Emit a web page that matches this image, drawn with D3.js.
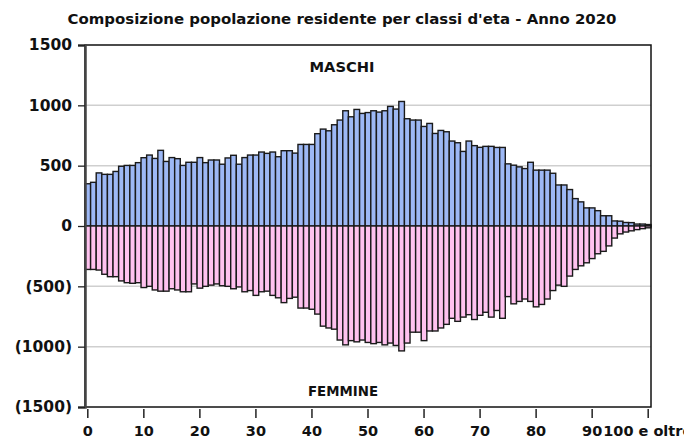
<!DOCTYPE html>
<html><head><meta charset="utf-8">
<script src="https://cdn.jsdelivr.net/npm/d3@7"></script>
<style>body{margin:0;background:#fff}svg{display:block}</style>
</head><body>
<svg id="c" width="684" height="439"></svg>
<script>
const ages = [0,1,2,3,4,5,6,7,8,9,10,11,12,13,14,15,16,17,18,19,20,21,22,23,24,25,26,27,28,29,30,31,32,33,34,35,36,37,38,39,40,41,42,43,44,45,46,47,48,49,50,51,52,53,54,55,56,57,58,59,60,61,62,63,64,65,66,67,68,69,70,71,72,73,74,75,76,77,78,79,80,81,82,83,84,85,86,87,88,89,90,91,92,93,94,95,96,97,98,99,100];
const maschi = [350,362,440,428,428,452,495,502,502,525,566,588,560,627,535,567,558,502,528,528,567,525,547,547,512,564,586,512,567,588,588,613,602,613,574,624,624,604,676,676,676,765,803,789,839,878,955,905,966,933,940,955,944,955,991,969,1032,889,878,878,825,850,767,792,781,704,690,618,704,666,652,660,660,651,651,515,504,490,476,528,463,463,463,437,340,340,302,227,200,150,150,127,85,85,42,40,29,28,16,16,12];
const femmine = [360,360,365,400,420,420,455,470,475,470,510,500,530,540,540,520,530,545,545,480,515,500,490,480,495,500,520,505,545,535,575,545,540,575,595,635,600,590,680,680,690,730,830,845,855,945,985,950,960,945,965,975,965,985,970,990,1035,970,880,880,950,870,870,845,815,765,790,755,735,775,740,715,755,700,765,585,645,625,605,625,670,650,605,535,490,500,415,360,330,305,270,230,210,165,100,65,50,40,30,22,15];
const yTicks = [1500,1000,500,0,-500,-1000,-1500];
const gridValues = [1000,500,-500,-1000];
const xTickAges = [0,10,20,30,40,50,60,70,80,90,100];
const xTickLabels = ["0","10","20","30","40","50","60","70","80","90","100 e oltre"];
const title = "Composizione popolazione residente per classi d'eta - Anno 2020";
const labelM = "MASCHI", labelF = "FEMMINE";

const svg = d3.select("#c");
const L=85, R=651, T=45, B=407;
const x = d3.scaleBand().domain(ages).range([L,R]).padding(0);
const y = d3.scaleLinear().domain([-1500,1500]).range([B,T]);
const font = "DejaVu Sans, Verdana, sans-serif";

function fit(sel, w){
  sel.attr("textLength", w).attr("lengthAdjust","spacingAndGlyphs");
}

const tt = svg.append("text").attr("x",342).attr("y",24).attr("text-anchor","middle")
  .attr("font-family",font).attr("font-weight","bold").attr("font-size",14).attr("fill","#111").text(title);
fit(tt, 549);

svg.append("g").selectAll("line").data(gridValues).join("line")
  .attr("x1",L).attr("x2",R).attr("y1",d=>y(d)).attr("y2",d=>y(d))
  .attr("stroke","#cfcfcf").attr("stroke-width",1.5);

const stroke="#1a1a1a", sw=1.4;
svg.append("g").selectAll("rect").data(ages).join("rect")
  .attr("x",d=>x(d)).attr("width",x.bandwidth())
  .attr("y",(d,i)=>y(maschi[i])).attr("height",(d,i)=>y(0)-y(maschi[i]))
  .attr("fill","#9db8f5").attr("stroke",stroke).attr("stroke-width",sw);
svg.append("g").selectAll("rect").data(ages).join("rect")
  .attr("x",d=>x(d)).attr("width",x.bandwidth())
  .attr("y",y(0)).attr("height",(d,i)=>y(-femmine[i])-y(0))
  .attr("fill","#ffc2ef").attr("stroke",stroke).attr("stroke-width",sw);

svg.append("rect").attr("x",L).attr("y",T).attr("width",R-L).attr("height",B-T)
  .attr("fill","none").attr("stroke","#111").attr("stroke-width",1.5);

const ya = svg.append("g").attr("transform",`translate(${L},0)`)
  .call(d3.axisLeft(y).tickValues(yTicks).tickSizeOuter(0).tickSize(7).tickPadding(6)
    .tickFormat(d=> d<0 ? `(${-d})` : `${d}`));
ya.select(".domain").attr("stroke","#444").attr("stroke-width",2.5);
ya.selectAll(".tick line").attr("stroke","#222").attr("stroke-width",1.3);
ya.selectAll("text").attr("font-family",font).attr("font-weight","bold").attr("font-size",15.5).attr("fill","#111");

const xa = svg.append("g").attr("transform",`translate(0,${B+2})`)
  .call(d3.axisBottom(x).tickValues(xTickAges).tickSizeOuter(0).tickSize(9).tickPadding(8)
    .tickFormat((d,i)=>xTickLabels[i]));
xa.select(".domain").remove();
xa.selectAll(".tick line").attr("stroke","#222").attr("stroke-width",1.5);
xa.selectAll("text").attr("font-family",font).attr("font-weight","bold").attr("font-size",14.5).attr("fill","#111");
xa.selectAll(".tick text").filter((d)=>d===100).attr("text-anchor","start").attr("x",-45);

const tm = svg.append("text").attr("x",342).attr("y",72).attr("text-anchor","middle")
  .attr("font-family",font).attr("font-weight","bold").attr("font-size",13.5).attr("fill","#111").text(labelM);
fit(tm, 65);
const tf = svg.append("text").attr("x",343).attr("y",396).attr("text-anchor","middle")
  .attr("font-family",font).attr("font-weight","bold").attr("font-size",13.5).attr("fill","#111").text(labelF);
fit(tf, 70);
</script>
</body></html>
